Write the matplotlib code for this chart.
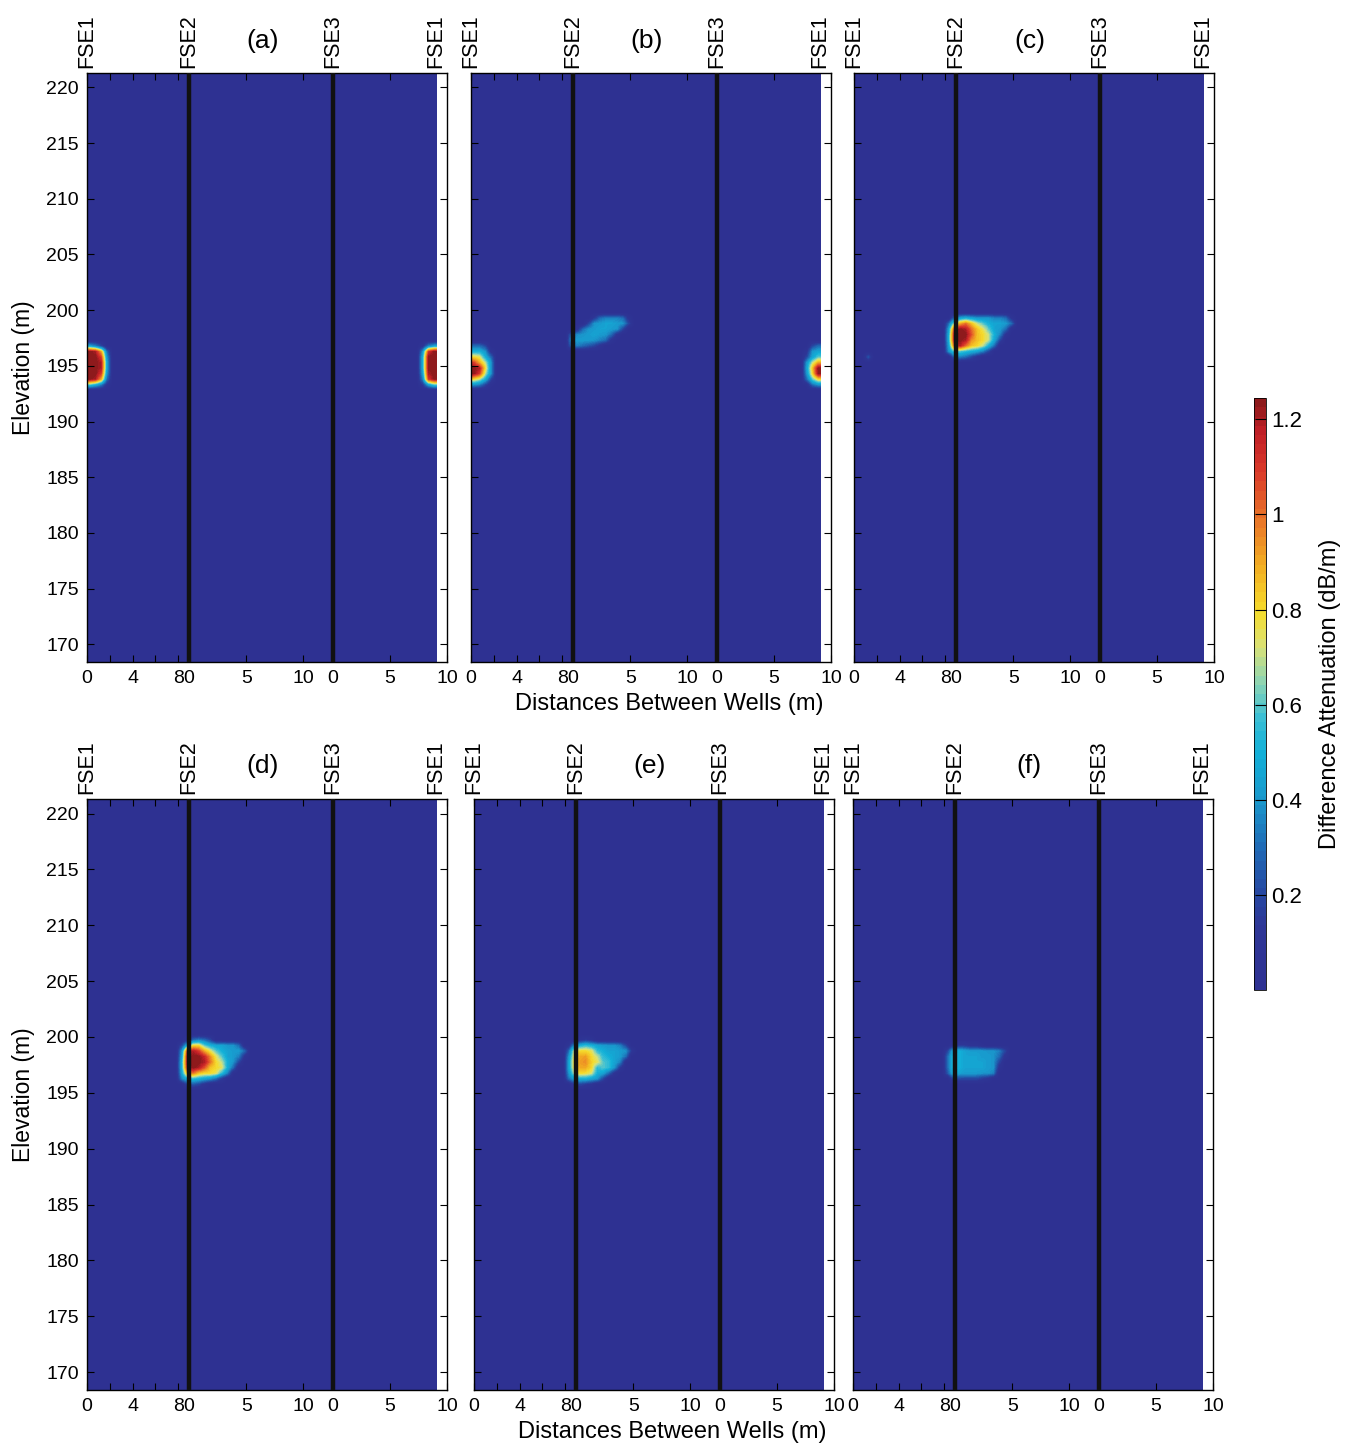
import numpy as np
import matplotlib
matplotlib.use('Agg')
import matplotlib.pyplot as plt
from matplotlib.colors import LinearSegmentedColormap

plt.rcParams['font.family'] = ['Liberation Sans', 'DejaVu Sans']

# well geometry along the unfolded profile (m)
well_names = ['FSE1', 'FSE2', 'FSE3', 'FSE1']
well_pos = [0, 8.95, 21.55, 30.6]
seg_start = [0, 8.95, 21.55]
seg_ticks = [[0, 2, 4, 6, 8], [0, 5, 10], [0, 5, 10]]
seg_labels = [['0', '', '4', '', '8'], ['0', '5', '10'], ['0', '5', '10']]
x_max = 31.55
y_ticks = [170, 175, 180, 185, 190, 195, 200, 205, 210, 215, 220]
panel_names = ['(a)', '(b)', '(c)', '(d)', '(e)', '(f)']
cbar_ticks = [0.2, 0.4, 0.6, 0.8, 1.0, 1.2]
cbar_ticklabels = ['0.2', '0.4', '0.6', '0.8', '1', '1.2']
background = 0.02

# anomalies: 0.5 m cells, rows from top down
a_left = [[0.45, 0.35, 0.2, 0],
          [1.25, 1.2, 0.9, 0.3],
          [1.25, 1.25, 1.1, 0.4],
          [1.25, 1.25, 1.2, 0.45],
          [1.25, 1.25, 1.2, 0.45],
          [1.25, 1.25, 1.1, 0.4],
          [1.25, 1.2, 0.9, 0.3],
          [0.6, 0.5, 0.35, 0.1]]
a_right = [[0.1, 0.35, 0.45],
           [0.4, 1.1, 1.25],
           [0.5, 1.25, 1.25],
           [0.5, 1.25, 1.25],
           [0.5, 1.25, 1.25],
           [0.45, 1.2, 1.25],
           [0.35, 1.1, 1.25],
           [0.15, 0.45, 0.6]]
b_left = [[0.3, 0.3, 0.2, 0],
          [0.5, 0.5, 0.4, 0.1],
          [0.8, 0.75, 0.5, 0.3],
          [1.1, 0.9, 0.7, 0.4],
          [1.25, 1.2, 0.8, 0.4],
          [1.25, 1.1, 0.7, 0.4],
          [0.8, 0.7, 0.5, 0.2],
          [0.4, 0.35, 0.2, 0.05]]
b_right = [[0, 0.2, 0.3],
           [0.1, 0.4, 0.45],
           [0.2, 0.45, 0.6],
           [0.4, 0.7, 0.9],
           [0.45, 0.85, 1.25],
           [0.4, 0.8, 1.25],
           [0.3, 0.6, 0.8],
           [0.05, 0.3, 0.4]]
b_mid = [[0, 0, 0, 0, 0.15, 0.3, 0.35, 0.35, 0.35, 0.3, 0.1],
         [0, 0, 0, 0.2, 0.4, 0.42, 0.45, 0.45, 0.42, 0.4, 0.2],
         [0, 0.1, 0.3, 0.4, 0.42, 0.45, 0.45, 0.42, 0.4, 0.2, 0],
         [0.3, 0.38, 0.4, 0.42, 0.45, 0.42, 0.4, 0.3, 0.1, 0, 0],
         [0.4, 0.42, 0.42, 0.42, 0.4, 0.35, 0.3, 0.1, 0, 0, 0],
         [0.3, 0.35, 0.3, 0.25, 0.2, 0.1, 0, 0, 0, 0, 0]]
c_mid = [[0, 0.3, 0.45, 0.5, 0.45, 0.4, 0.4, 0.4, 0.35, 0.35, 0.3, 0.1],
         [0.3, 0.7, 0.9, 1.0, 0.85, 0.7, 0.6, 0.5, 0.45, 0.45, 0.42, 0.3],
         [0.45, 1.1, 1.25, 1.2, 1.0, 0.85, 0.75, 0.6, 0.45, 0.42, 0.3, 0.05],
         [0.5, 1.2, 1.25, 1.25, 1.05, 0.85, 0.8, 0.7, 0.5, 0.35, 0.1, 0],
         [0.5, 1.2, 1.25, 1.2, 0.95, 0.85, 0.8, 0.7, 0.45, 0.2, 0, 0],
         [0.45, 1.05, 1.2, 1.0, 0.85, 0.8, 0.7, 0.5, 0.3, 0, 0, 0],
         [0.4, 0.6, 0.6, 0.55, 0.5, 0.45, 0.35, 0.2, 0, 0, 0, 0],
         [0, 0.3, 0.35, 0.3, 0.2, 0.1, 0, 0, 0, 0, 0, 0]]
c_dot = [[0.25]]
d_mid = [[0, 0.1, 0.3, 0.35, 0.3, 0.2, 0, 0, 0, 0, 0, 0],
         [0.2, 0.5, 0.8, 0.8, 0.6, 0.5, 0.45, 0.45, 0.4, 0.4, 0.3, 0],
         [0.4, 1.1, 1.2, 1.1, 0.9, 0.75, 0.6, 0.5, 0.45, 0.42, 0.42, 0.3],
         [0.45, 1.2, 1.25, 1.25, 1.15, 0.95, 0.75, 0.6, 0.45, 0.42, 0.35, 0.1],
         [0.5, 1.2, 1.25, 1.25, 1.2, 1.0, 0.8, 0.7, 0.5, 0.4, 0.2, 0],
         [0.5, 1.15, 1.25, 1.2, 1.05, 0.85, 0.8, 0.75, 0.5, 0.3, 0, 0],
         [0.45, 0.9, 1.0, 0.85, 0.8, 0.8, 0.75, 0.55, 0.35, 0.05, 0, 0],
         [0.35, 0.5, 0.55, 0.5, 0.45, 0.4, 0.3, 0.15, 0, 0, 0, 0],
         [0, 0.2, 0.25, 0.2, 0.1, 0, 0, 0, 0, 0, 0, 0]]
e_mid = [[0, 0, 0.1, 0.15, 0.1, 0, 0, 0, 0, 0, 0, 0],
         [0.1, 0.4, 0.5, 0.55, 0.5, 0.45, 0.42, 0.4, 0.4, 0.35, 0.2, 0],
         [0.3, 0.75, 0.8, 0.8, 0.75, 0.55, 0.5, 0.45, 0.45, 0.42, 0.4, 0.15],
         [0.4, 0.8, 0.9, 0.92, 0.8, 0.7, 0.55, 0.5, 0.45, 0.42, 0.3, 0],
         [0.45, 0.82, 0.92, 0.95, 0.82, 0.75, 0.6, 0.55, 0.45, 0.35, 0.05, 0],
         [0.45, 0.8, 0.9, 0.9, 0.8, 0.55, 0.6, 0.55, 0.4, 0.15, 0, 0],
         [0.4, 0.7, 0.8, 0.78, 0.72, 0.5, 0.45, 0.3, 0.1, 0, 0, 0],
         [0.3, 0.45, 0.5, 0.5, 0.45, 0.4, 0.2, 0, 0, 0, 0, 0],
         [0, 0.15, 0.2, 0.15, 0.1, 0, 0, 0, 0, 0, 0, 0]]
f_mid = [[0, 0.1, 0.15, 0.15, 0.1, 0.1, 0.05, 0, 0, 0, 0, 0],
         [0.2, 0.5, 0.5, 0.45, 0.42, 0.42, 0.42, 0.4, 0.4, 0.35, 0.2, 0],
         [0.3, 0.55, 0.5, 0.45, 0.45, 0.45, 0.42, 0.42, 0.4, 0.3, 0.1, 0],
         [0.3, 0.55, 0.5, 0.45, 0.45, 0.45, 0.45, 0.42, 0.4, 0.2, 0, 0],
         [0.3, 0.55, 0.5, 0.45, 0.45, 0.45, 0.45, 0.42, 0.4, 0.1, 0, 0],
         [0.25, 0.5, 0.45, 0.42, 0.42, 0.42, 0.4, 0.4, 0.35, 0, 0, 0],
         [0, 0.2, 0.2, 0.2, 0.2, 0.2, 0.15, 0.1, 0, 0, 0, 0]]

# (x of left edge, elevation of top edge, cells)
anomalies = [
    [(0.0, 197.0, a_left), (29.0, 197.0, a_right)],
    [(0.0, 197.0, b_left), (29.0, 197.0, b_right), (8.5, 199.5, b_mid)],
    [(8.0, 199.5, c_mid), (1.0, 196.0, c_dot)],
    [(8.0, 200.0, d_mid)],
    [(8.0, 200.0, e_mid)],
    [(8.0, 199.5, f_mid)],
]

nx, ny = 61, 107
x_end = well_pos[-1]
y_lo, y_hi = 168.0, 221.5
dx = x_end / nx
dy = (y_hi - y_lo) / ny

cmap = LinearSegmentedColormap.from_list('att', [
    (0.00, '#2e3192'), (0.10, '#2e3696'), (0.16, '#2648a2'),
    (0.24, '#1f6cb6'), (0.32, '#1a98cc'), (0.40, '#12b0d8'),
    (0.46, '#3cbfd4'), (0.52, '#8cd4b4'), (0.58, '#d8e278'),
    (0.64, '#f6dc2c'), (0.72, '#f2ae22'), (0.80, '#e97428'),
    (0.88, '#da3a2a'), (0.95, '#c01f26'), (1.00, '#8e1a1c')]).resampled(64)

fig = plt.figure(figsize=(13.56, 14.44), dpi=100)
W, H = 1356, 1444
cols = [[87, 471, 854], [87, 474, 853]]
rows = [(73, 662), (799, 1390)]

for k in range(6):
    r, c = divmod(k, 3)
    left = cols[r][c]
    top, bot = rows[r]
    ax = fig.add_axes([left / W, 1 - bot / H, 360 / W, (bot - top) / H])

    grid = np.full((ny, nx), background)
    for x0, ytop, cells in anomalies[k]:
        cells = np.array(cells)
        i0 = int(round((y_hi - ytop) / dy))
        j0 = int(round(x0 / dx))
        h, w = cells.shape
        w = min(w, nx - j0)
        grid[i0:i0 + h, j0:j0 + w] = np.maximum(grid[i0:i0 + h, j0:j0 + w], cells[:, :w])

    im = ax.imshow(grid, extent=(0, x_end, y_lo, y_hi), origin='upper', aspect='auto',
                   cmap=cmap, vmin=0, vmax=1.245, interpolation='bilinear')
    for xp in well_pos[1:3]:
        ax.axvline(xp, color='#111111', lw=3.2, zorder=3)

    ax.set_xlim(0, x_max)
    ax.set_ylim(168.4, 221.3)

    ticks, labels = [], []
    for s0, tk, lb in zip(seg_start, seg_ticks, seg_labels):
        ticks += [s0 + t for t in tk]
        labels += lb
    ax.set_xticks(ticks)
    ax.set_xticklabels(labels)
    ax.set_yticks(y_ticks)
    if c != 0:
        ax.set_yticklabels([])
    else:
        ax.set_ylabel('Elevation (m)', fontsize=16.5, labelpad=8)
    ax.tick_params(direction='in', top=True, right=True, length=5, width=0.8,
                   labelsize=14, pad=6, colors='black')
    for sp in ax.spines.values():
        sp.set_linewidth(1.0)

    for name, xp in zip(well_names, well_pos):
        ax.text(xp, 1.008, name, transform=ax.get_xaxis_transform(), rotation=90,
                ha='center', va='bottom', fontsize=15.5)
    ax.text(15.4, 1.055, panel_names[k], transform=ax.get_xaxis_transform(),
            ha='center', va='center', fontsize=19)
    if c == 1:
        ax.set_xlabel('Distances Between Wells (m)', fontsize=17)
        ax.xaxis.set_label_coords(0.552, -0.052 if r == 0 else -0.053)

cax = fig.add_axes([1254 / W, 1 - 990 / H, 12 / W, 592 / H])
cb = fig.colorbar(im, cax=cax, ticks=cbar_ticks)
cb.set_ticklabels(cbar_ticklabels)
cb.outline.set_linewidth(0.6)
cax.tick_params(direction='in', length=8, width=0.8, labelsize=16, pad=4)
cax.set_ylabel('Difference Attenuation (dB/m)', fontsize=17, labelpad=12)

fig.savefig('out.png', dpi=100)
